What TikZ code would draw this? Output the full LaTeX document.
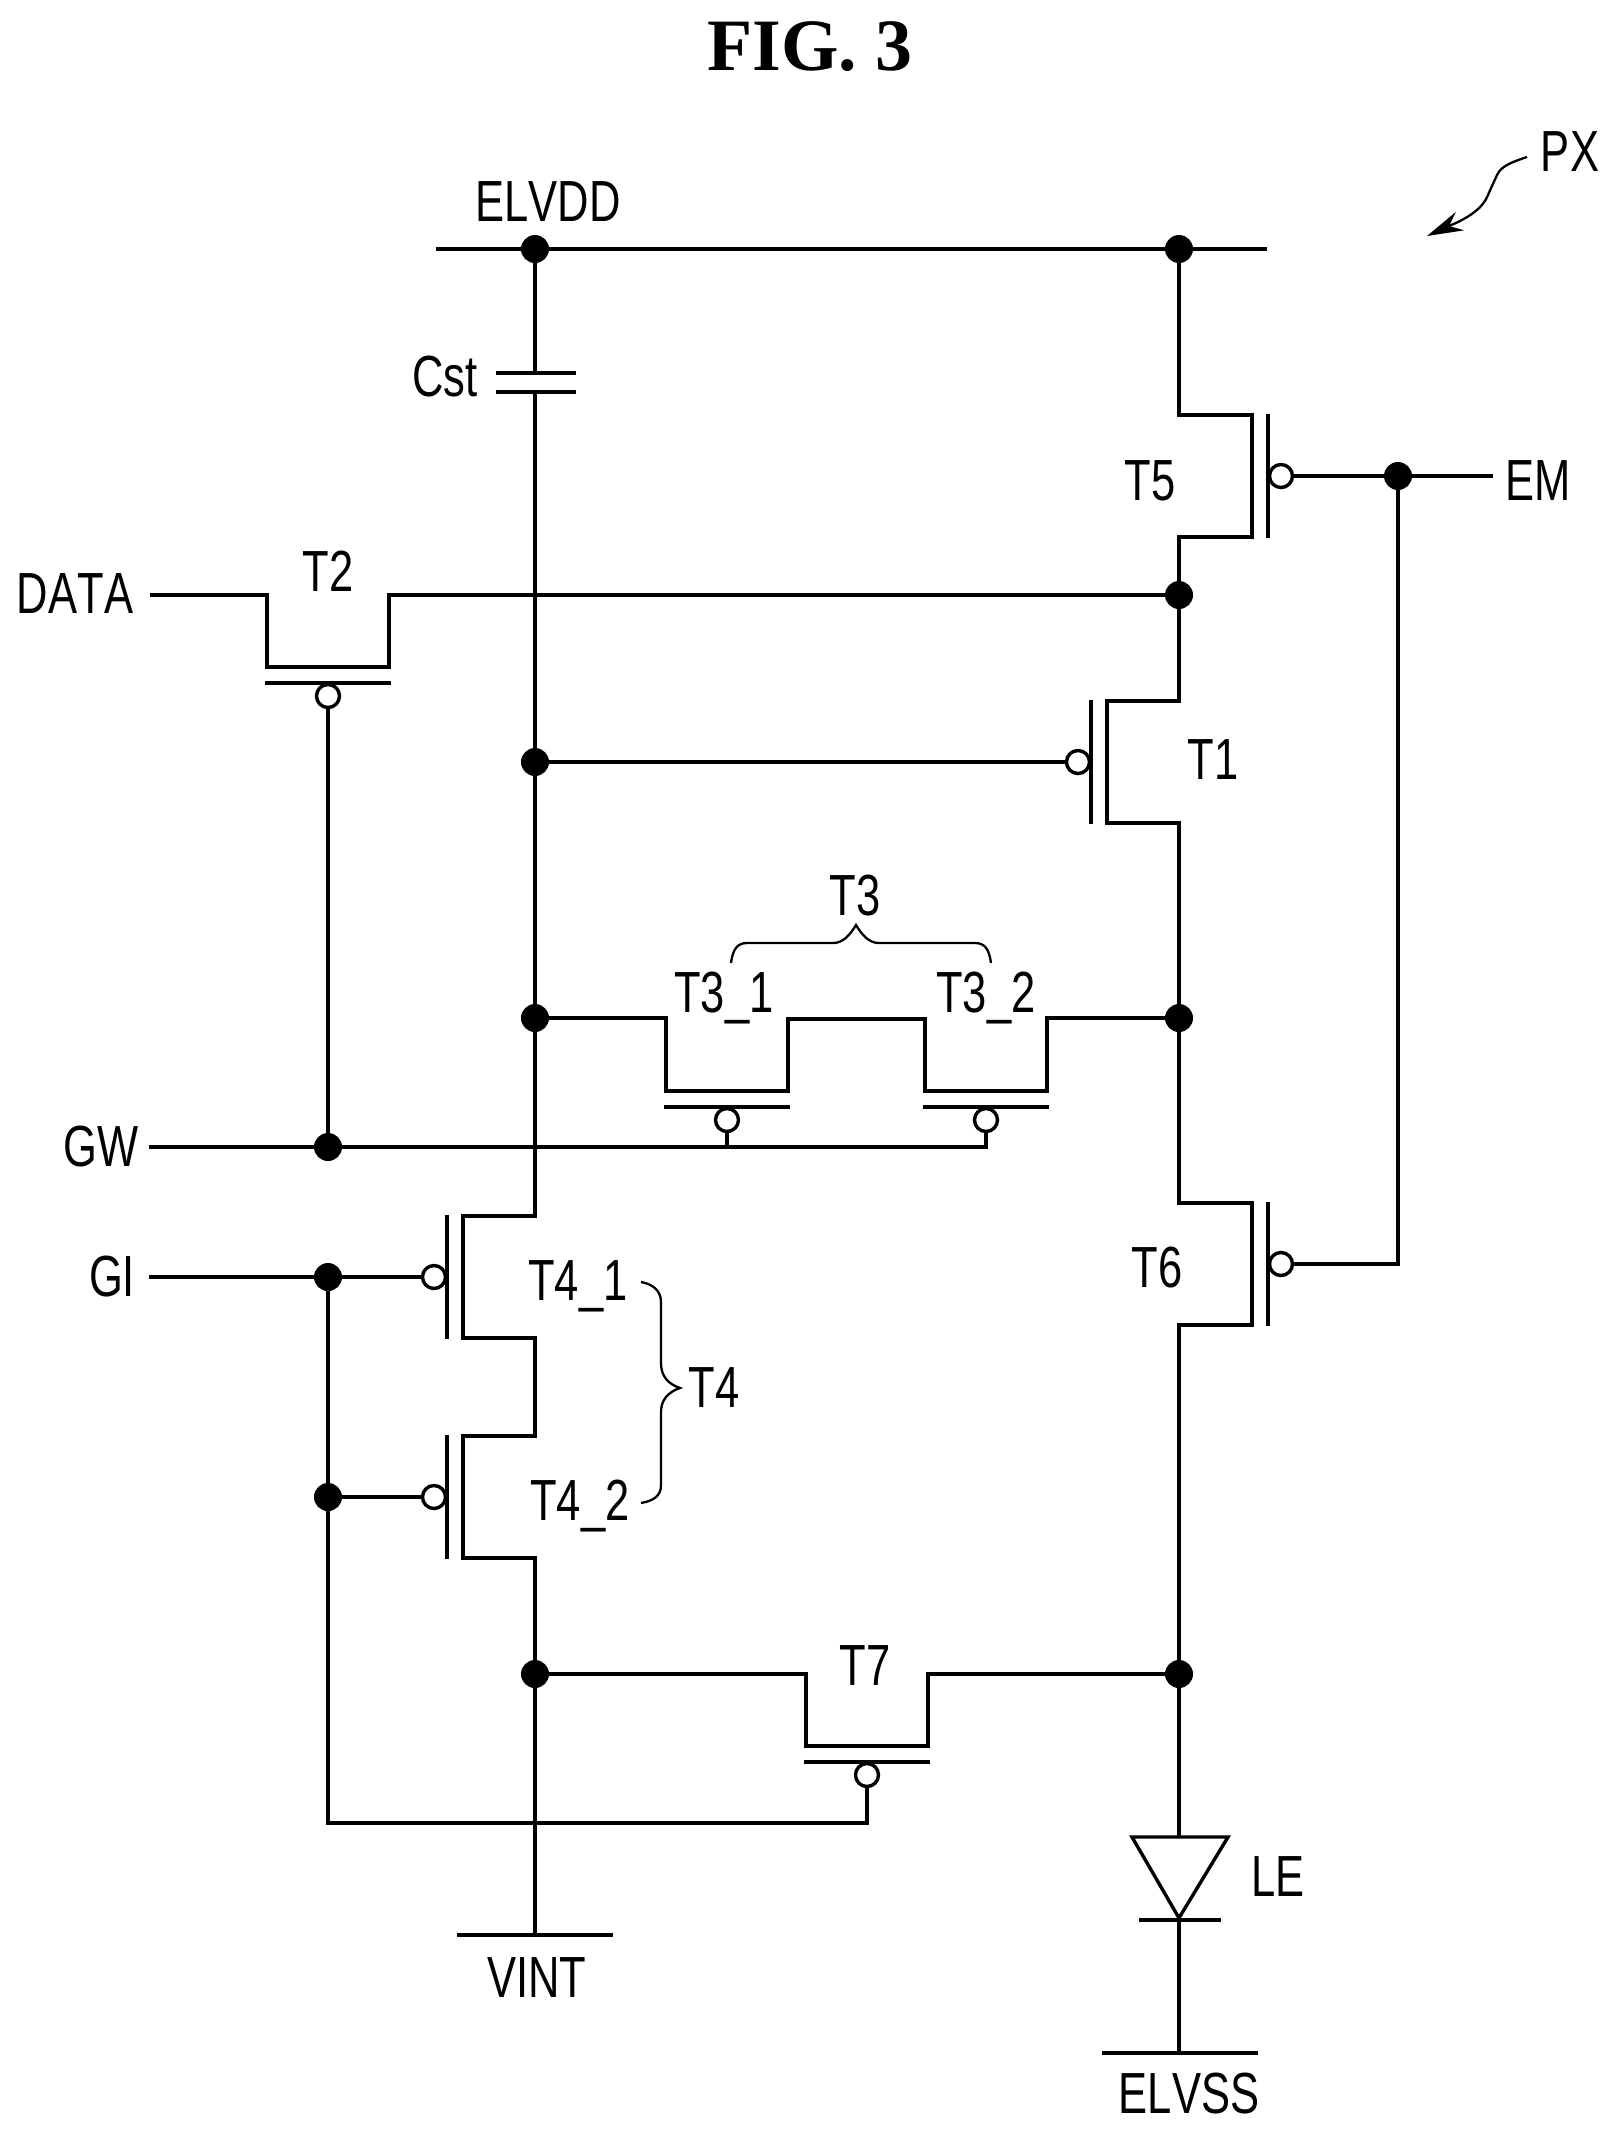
\documentclass[tikz,border=0pt]{standalone}
\usepackage{fontspec}
\usetikzlibrary{arrows.meta}
\setmainfont[FakeStretch=0.75, Kerning=Off]{Liberation Sans}
\newfontfamily\figfont{Liberation Serif}

\begin{document}
\begin{tikzpicture}[x=0.01cm, y=-0.01cm]

  \tikzstyle{wire} = [line width=0.034cm, line join=miter]
  \tikzstyle{thinwire} = [line width=0.023cm]
  \tikzstyle{junction} = [circle, fill=black, inner sep=0, outer sep=0, minimum size=0.28cm]
  \tikzstyle{bubble} = [circle, draw, fill=white, line width=0.034cm, inner sep=0, outer sep=0, minimum size=0.23cm]
  \tikzstyle{lbl} = [anchor=base, inner sep=0, font=\fontsize{16.5}{18}\selectfont]

  \useasboundingbox (0,0) rectangle (1616,2135);

  \node[anchor=base, inner sep=0, font=\figfont\bfseries\fontsize{21}{24}\selectfont] (title) at (810,70) {FIG. 3};

  % vertical gate transistors
  \foreach \nm/\x/\y/\s in {T5/1281/476/1, T6/1281/1264/1, T1/1078/762/-1, Tfa/434/1277/-1, Tfb/434/1497/-1} {
    \node[bubble] (\nm) at (\x,\y) {};
    \draw[wire] ({\x-13*\s},{\y-62}) -- ({\x-13*\s},{\y+62});
    \coordinate (\nm a) at ({\x-29*\s},{\y-61});
    \coordinate (\nm b) at ({\x-29*\s},{\y+61});
  }

  % horizontal gate transistors
  \foreach \nm/\x/\y in {T2/328/696, Tta/727/1120, Ttb/986/1120, T7/867/1775} {
    \node[bubble] (\nm) at (\x,\y) {};
    \draw[wire] ({\x-63},{\y-13}) -- ({\x+63},{\y-13});
    \coordinate (\nm a) at ({\x-61},{\y-29});
    \coordinate (\nm b) at ({\x+61},{\y-29});
  }

  \foreach \nm/\x/\y in {dVddL/535/249, dVddR/1179/249, dEM/1398/476, dData/1179/595, dGate/535/762,
                         dTL/535/1018, dTR/1179/1018, dGW/328/1147, dGI/328/1277, dGIb/328/1497,
                         dSL/535/1674, dSR/1179/1674} {
    \node[junction] (\nm) at (\x,\y) {};
  }

  \coordinate (vddIn) at (436,249);
  \coordinate (vddOut) at (1267,249);
  \coordinate (capTop) at (535,373);
  \coordinate (capBot) at (535,392);
  \coordinate (emOut) at (1493,476);
  \coordinate (dataIn) at (150,595);
  \coordinate (gwIn) at (149,1147);
  \coordinate (giIn) at (149,1277);
  \coordinate (giEnd) at (867,1823);
  \coordinate (vintBar) at (535,1935);
  \coordinate (leTop) at (1179,1837);
  \coordinate (leTip) at (1179,1918);
  \coordinate (vssBar) at (1179,2053);

  % supply and drive lines
  \draw[wire] (vddIn) -- (dVddL) -- (dVddR) -- (vddOut);
  \draw[wire] (dVddL) -- (capTop);
  \draw[wire] (capTop) +(-39,0) -- +(41,0);
  \draw[wire] (capBot) +(-39,0) -- +(41,0);
  \draw[wire] (capBot) -- (dGate);
  \draw[wire] (dGate) -- (dTL);
  \draw[wire] (dGate) -- (T1);

  \draw[wire] (dVddR) |- (T5a) -- (T5b) -| (dData);
  \draw[wire] (dData) |- (T1a) -- (T1b) -| (dTR);
  \draw[wire] (dTR) |- (T6a) -- (T6b) -| (dSR);

  \draw[wire] (T5) -- (dEM) -- (emOut);
  \draw[wire] (dEM) |- (T6);

  \draw[wire] (dataIn) -| (T2a) -- (T2b) |- (dData);
  \draw[wire] (T2) -- (dGW);

  \draw[wire] (dTL) -| (Ttaa) -- (Ttab) -- ++(0,-72) -| (Ttba) -- (Ttbb) |- (dTR);
  \draw[wire] (gwIn) -- (dGW) -| (Ttb);
  \draw[wire] (Tta) -- (Tta |- dGW);

  \draw[wire] (dTL) |- (Tfaa) -- (Tfab) -- ++(72,0) |- (Tfba) -- (Tfbb) -| (dSL);
  \draw[wire] (giIn) -- (dGI) -- (Tfa);
  \draw[wire] (dGI) -- (dGIb) -- (Tfb);
  \draw[wire] (dGIb) |- (giEnd) -- (T7);

  \draw[wire] (dSL) -| (T7a) -- (T7b) |- (dSR);
  \draw[wire] (dSL) -- (vintBar);
  \draw[wire] (vintBar) +(-78,0) -- +(78,0);

  % light emitting element
  \draw[wire] (dSR) -- (leTop);
  \draw[wire] (leTop) +(-47,0) -- +(49,0) -- (leTip) -- cycle;
  \draw[wire] (leTip) +(-40,2) -- +(42,2);
  \draw[wire] (leTip) -- (vssBar);
  \draw[wire] (vssBar) +(-77,0) -- +(79,0);

  % braces
  \draw[thinwire] (731,963) .. controls (733,948) and (738,943) .. (747,943) -- (833,943)
    .. controls (843,943) and (850,935) .. (856,925) .. controls (862,935) and (869,943) .. (879,943)
    -- (975,943) .. controls (984,943) and (989,948) .. (991,963);
  \draw[thinwire] (641,1282) .. controls (652,1284) and (661,1290) .. (661,1302) -- (661,1363)
    .. controls (661,1376) and (668,1384) .. (680,1388) .. controls (668,1392) and (661,1400) .. (661,1412)
    -- (661,1485) .. controls (661,1497) and (652,1501) .. (641,1503);

  \node[lbl] (lPX) at (1570,171) {PX};
  \coordinate (pxFrom) at (1527,157);
  \coordinate (pxTo) at (1427,236);
  \draw[thinwire, -{Stealth[length=0.36cm, width=0.2cm]}] (pxFrom) .. controls (1512,162) and (1501,166) .. (1497,175)
    .. controls (1493,184) and (1490,190) .. (1488,195) .. controls (1483,208) and (1470,216) .. (1458,222) -- (pxTo);

  \node[lbl] (lVdd) at (548,221) {ELVDD};
  \node[lbl] (lCst) at (445,396) {Cst};
  \node[lbl] (lT5) at (1150,500) {T5};
  \node[lbl] (lEM) at (1538,500) {EM};
  \node[lbl] (lData) at (75,613) {DATA};
  \node[lbl] (lT2) at (328,591) {T2};
  \node[lbl] (lT1) at (1213,779) {T1};
  \node[lbl] (lT3) at (855,915) {T3};
  \node[lbl] (lTta) at (724,1012) {T3\_1};
  \node[lbl] (lTtb) at (986,1012) {T3\_2};
  \node[lbl] (lGW) at (101,1166) {GW};
  \node[lbl] (lGI) at (112,1296) {GI};
  \node[lbl] (lT6) at (1157,1287) {T6};
  \node[lbl] (lTfa) at (578,1300) {T4\_1};
  \node[lbl] (lTfb) at (580,1520) {T4\_2};
  \node[lbl] (lT4) at (714,1407) {T4};
  \node[lbl] (lT7) at (865,1685) {T7};
  \node[lbl] (lLE) at (1278,1896) {LE};
  \node[lbl] (lVint) at (537,1997) {VINT};
  \node[lbl] (lVss) at (1189,2113) {ELVSS};

\end{tikzpicture}
\end{document}
